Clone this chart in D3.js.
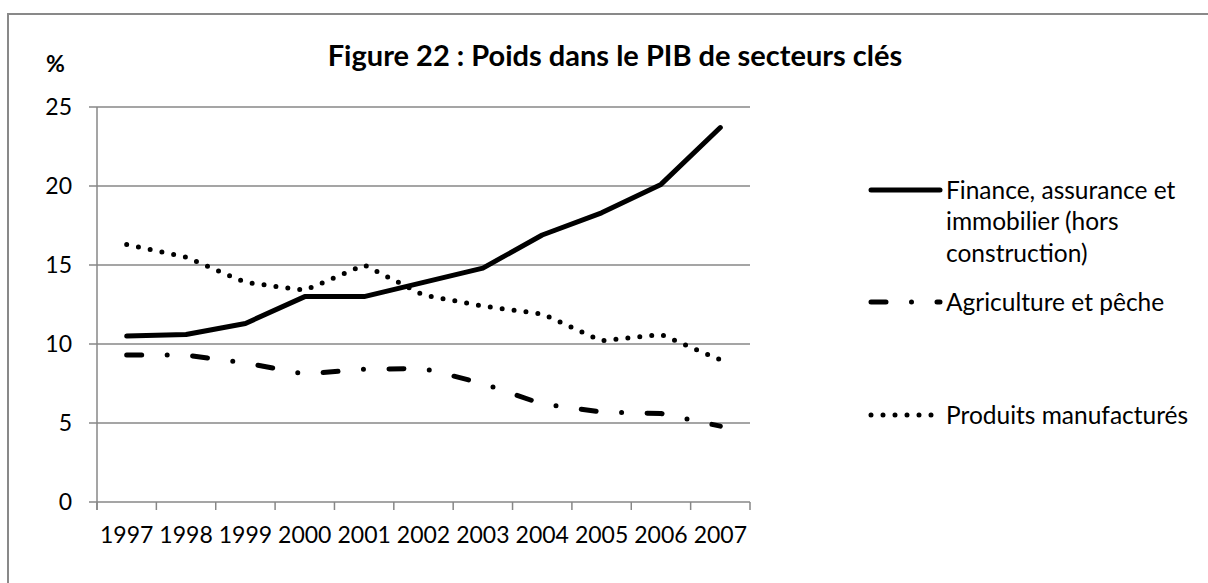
<!DOCTYPE html>
<html>
<head>
<meta charset="utf-8">
<script src="https://cdn.jsdelivr.net/npm/d3@7"></script>
<style>
  body { margin: 0; background: #fff; }
  svg text { font-family: Lato, "Open Sans", sans-serif; fill: #000; }
</style>
</head>
<body>
<svg id="chart" width="1208" height="583"></svg>
<script>
// Données
const years = ["1997", "1998", "1999", "2000", "2001", "2002", "2003", "2004", "2005", "2006", "2007"];
const finance = [10.5, 10.6, 11.3, 13.0, 13.0, 13.9, 14.8, 16.9, 18.3, 20.1, 23.7];
const agriculture = [9.3, 9.3, 8.8, 8.1, 8.4, 8.45, 7.5, 6.2, 5.7, 5.6, 4.8];
const manufactures = [16.3, 15.5, 13.9, 13.4, 15.0, 13.1, 12.4, 11.9, 10.2, 10.6, 9.0];
const yTicks = [0, 5, 10, 15, 20, 25];
const seriesNames = [
  ["Finance, assurance et", "immobilier (hors", "construction)"],
  ["Agriculture et pêche"],
  ["Produits manufacturés"],
];

const svg = d3.select("#chart");

// cadre
svg.append("rect")
  .attr("x", 8).attr("y", 14)
  .attr("width", 1220).attr("height", 600)
  .attr("fill", "none")
  .attr("stroke", "#898989")
  .attr("stroke-width", 2);

const x = d3.scaleBand().domain(years).range([97, 750]);
const y = d3.scaleLinear().domain([0, 25]).range([502, 107]);

// grille
svg.append("g")
  .selectAll("line")
  .data(yTicks)
  .enter()
  .append("line")
  .attr("x1", 89).attr("x2", 750)
  .attr("y1", (d) => y(d)).attr("y2", (d) => y(d))
  .attr("stroke", "#878787")
  .attr("stroke-width", 1.5);

// axe Y
svg.append("line")
  .attr("x1", 97).attr("x2", 97)
  .attr("y1", y(25)).attr("y2", 510)
  .attr("stroke", "#878787").attr("stroke-width", 1.5);

svg.append("g")
  .selectAll("text")
  .data(yTicks)
  .enter()
  .append("text")
  .attr("x", 72)
  .attr("y", (d) => y(d))
  .attr("dy", "0.36em")
  .attr("text-anchor", "end")
  .style("font-size", "23px")
  .text((d) => d);

// axe X
const xAxis = svg.append("g")
  .attr("transform", "translate(0," + y(0) + ")")
  .call(d3.axisBottom(x).tickSize(0).tickPadding(25));
xAxis.select(".domain").remove();
xAxis.selectAll("text").style("font-size", "23px").style("font-family", "Lato, sans-serif").attr("fill", "#000");

const xBounds = years.map((d) => x(d)).concat([750]);
svg.append("g")
  .selectAll("line")
  .data(xBounds)
  .enter()
  .append("line")
  .attr("x1", (d) => d).attr("x2", (d) => d)
  .attr("y1", y(0)).attr("y2", y(0) + 8)
  .attr("stroke", "#878787").attr("stroke-width", 1.5);

// titres
svg.append("text")
  .attr("x", 615).attr("y", 66)
  .attr("text-anchor", "middle")
  .style("font-size", "29px")
  .style("font-weight", "bold")
  .text("Figure 22 : Poids dans le PIB de secteurs clés");

svg.append("text")
  .attr("x", 46).attr("y", 72)
  .style("font-size", "23px")
  .style("font-weight", "bold")
  .text("%");

// courbes
const styles = [
  { dash: null },
  { dash: "15 25.5 0 25.5" },
  { dash: "0 12" },
];
const allSeries = [finance, agriculture, manufactures];

const line = d3.line()
  .x((d, i) => x(years[i]) + x.bandwidth() / 2)
  .y((d) => y(d));

allSeries.forEach((s, k) => {
  svg.append("path")
    .datum(s)
    .attr("d", line)
    .attr("fill", "none")
    .attr("stroke", "#000")
    .attr("stroke-width", 5)
    .attr("stroke-linecap", "round")
    .attr("stroke-linejoin", "round")
    .attr("stroke-dasharray", styles[k].dash);
});

// légende
const legendY = [190, 302, 415];
const legend = svg.append("g");
seriesNames.forEach((lines, k) => {
  legend.append("line")
    .attr("x1", 871).attr("x2", 940)
    .attr("y1", legendY[k]).attr("y2", legendY[k])
    .attr("stroke", "#000")
    .attr("stroke-width", 5)
    .attr("stroke-linecap", "round")
    .attr("stroke-dasharray", styles[k].dash);
  const t = legend.append("text")
    .attr("x", 946)
    .attr("y", legendY[k])
    .style("font-size", "24.5px");
  lines.forEach((l, j) => {
    t.append("tspan")
      .attr("x", 946)
      .attr("y", legendY[k] + j * 31.5)
      .attr("dy", "0.36em")
      .text(l);
  });
});
</script>
</body>
</html>
